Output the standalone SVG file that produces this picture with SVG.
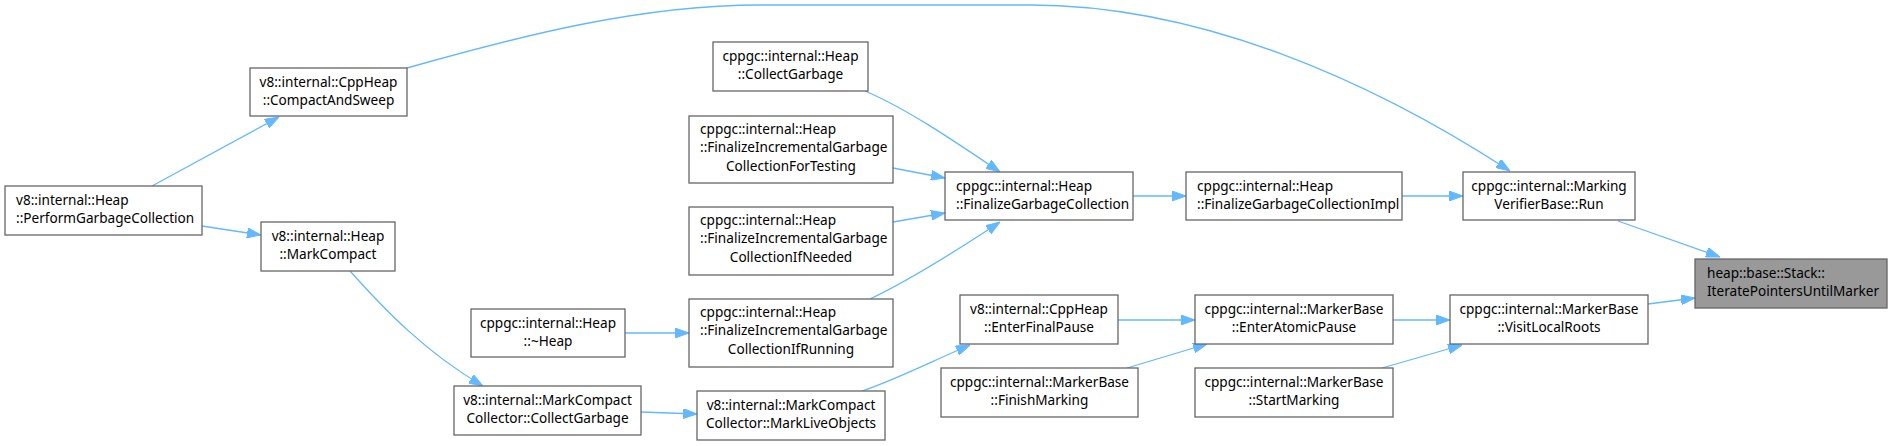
<svg xmlns="http://www.w3.org/2000/svg" width="1892" height="446" viewBox="0 0 1892 446">
<style>
.n rect{fill:#ffffff;stroke:#666666;stroke-width:1.3}
.n.hl rect{fill:#999999}
.n text{font-family:"Noto Sans","DejaVu Sans",sans-serif;font-size:13.6px;fill:#000000}
.c{text-anchor:middle}
.e path{fill:none;stroke:#63b8ff;stroke-width:1.3;marker-end:url(#ah)}
</style>
<defs>
<marker id="ah" markerUnits="userSpaceOnUse" viewBox="0 0 14 10" markerWidth="14" markerHeight="10" refX="14" refY="5" orient="auto">
<path d="M0,0 L14,5 L0,10 z" fill="#63b8ff" stroke="#63b8ff" stroke-width="1"/>
</marker>
</defs>
<rect width="1892" height="446" fill="#ffffff"/>
<g id="edges" class="e">
<path d="M152,186 L279,117"/>
<path d="M202,226 L261,235"/>
<path d="M407,68 C520,36 640,5 760,5 L1030,5 C1200,5 1370,80 1510,171"/>
<path d="M350,271 C385,310 425,352 483,386"/>
<path d="M641,412 L697,414"/>
<path d="M862,391 C895,380 930,362 970,345"/>
<path d="M625,333 L689,333"/>
<path d="M870,299 C910,280 950,255 1000,222"/>
<path d="M865,91 C905,108 950,138 1000,172"/>
<path d="M893,168 L945,178"/>
<path d="M893,222 L945,213"/>
<path d="M1133,196 L1186,196"/>
<path d="M1402,196 L1463,196"/>
<path d="M1618,221 L1720,257"/>
<path d="M1118,320 L1195,320"/>
<path d="M1127,368 L1207,344"/>
<path d="M1393,320 L1450,320"/>
<path d="M1382,368 L1462,345"/>
<path d="M1648,304 L1695,298"/>
</g>
<g id="node_perform" class="n"><rect x="5" y="186" width="197" height="49"/><text x="16" y="204.5">v8::internal::Heap</text><text x="16" y="223">::PerformGarbageCollection</text></g>
<g id="node_compactandsweep" class="n"><rect x="250" y="68" width="157" height="48"/><text class="c" x="328.5" y="86.5">v8::internal::CppHeap</text><text class="c" x="328.5" y="105">::CompactAndSweep</text></g>
<g id="node_markcompact" class="n"><rect x="261" y="222" width="134" height="49"/><text class="c" x="328" y="240.5">v8::internal::Heap</text><text class="c" x="328" y="259">::MarkCompact</text></g>
<g id="node_mcc_collectgarbage" class="n"><rect x="454" y="386" width="187" height="49"/><text class="c" x="547.5" y="404.5">v8::internal::MarkCompact</text><text class="c" x="547.5" y="423">Collector::CollectGarbage</text></g>
<g id="node_dtor_heap" class="n"><rect x="471" y="309" width="154" height="48"/><text class="c" x="548" y="327.5">cppgc::internal::Heap</text><text class="c" x="548" y="346">::~Heap</text></g>
<g id="node_collectgarbage" class="n"><rect x="713" y="42" width="155" height="49"/><text class="c" x="790.5" y="60.5">cppgc::internal::Heap</text><text class="c" x="790.5" y="79">::CollectGarbage</text></g>
<g id="node_fortesting" class="n"><rect x="689" y="116" width="204" height="67"/><text x="700" y="133.5">cppgc::internal::Heap</text><text x="700" y="152.3">::FinalizeIncrementalGarbage</text><text class="c" x="791" y="171">CollectionForTesting</text></g>
<g id="node_ifneeded" class="n"><rect x="689" y="207" width="204" height="68"/><text x="700" y="224.5">cppgc::internal::Heap</text><text x="700" y="243.3">::FinalizeIncrementalGarbage</text><text class="c" x="791" y="262">CollectionIfNeeded</text></g>
<g id="node_ifrunning" class="n"><rect x="689" y="299" width="204" height="68"/><text x="700" y="316.5">cppgc::internal::Heap</text><text x="700" y="335.3">::FinalizeIncrementalGarbage</text><text class="c" x="791" y="354">CollectionIfRunning</text></g>
<g id="node_marklive" class="n"><rect x="697" y="391" width="188" height="49"/><text class="c" x="791" y="409.5">v8::internal::MarkCompact</text><text class="c" x="791" y="428">Collector::MarkLiveObjects</text></g>
<g id="node_fgc" class="n"><rect x="945" y="172" width="188" height="48"/><text x="956" y="190.5">cppgc::internal::Heap</text><text x="956" y="209">::FinalizeGarbageCollection</text></g>
<g id="node_fgcimpl" class="n"><rect x="1186" y="172" width="216" height="48"/><text x="1197" y="190.5">cppgc::internal::Heap</text><text x="1197" y="209">::FinalizeGarbageCollectionImpl</text></g>
<g id="node_enterfinalpause" class="n"><rect x="960" y="295" width="158" height="49"/><text class="c" x="1039" y="313.5">v8::internal::CppHeap</text><text class="c" x="1039" y="332">::EnterFinalPause</text></g>
<g id="node_finishmarking" class="n"><rect x="941" y="368" width="197" height="49"/><text class="c" x="1039.5" y="386.5">cppgc::internal::MarkerBase</text><text class="c" x="1039.5" y="405">::FinishMarking</text></g>
<g id="node_enteratomic" class="n"><rect x="1195" y="295" width="198" height="49"/><text class="c" x="1294" y="313.5">cppgc::internal::MarkerBase</text><text class="c" x="1294" y="332">::EnterAtomicPause</text></g>
<g id="node_startmarking" class="n"><rect x="1195" y="368" width="198" height="49"/><text class="c" x="1294" y="386.5">cppgc::internal::MarkerBase</text><text class="c" x="1294" y="405">::StartMarking</text></g>
<g id="node_run" class="n"><rect x="1463" y="172" width="172" height="48"/><text class="c" x="1549" y="190.5">cppgc::internal::Marking</text><text class="c" x="1549" y="209">VerifierBase::Run</text></g>
<g id="node_visitlocalroots" class="n"><rect x="1450" y="295" width="198" height="49"/><text class="c" x="1549" y="313.5">cppgc::internal::MarkerBase</text><text class="c" x="1549" y="332">::VisitLocalRoots</text></g>
<g id="node_stack" class="n hl"><rect x="1695" y="259" width="192" height="49"/><text x="1707" y="277.5">heap::base::Stack::</text><text x="1707" y="296">IteratePointersUntilMarker</text></g>
</svg>
